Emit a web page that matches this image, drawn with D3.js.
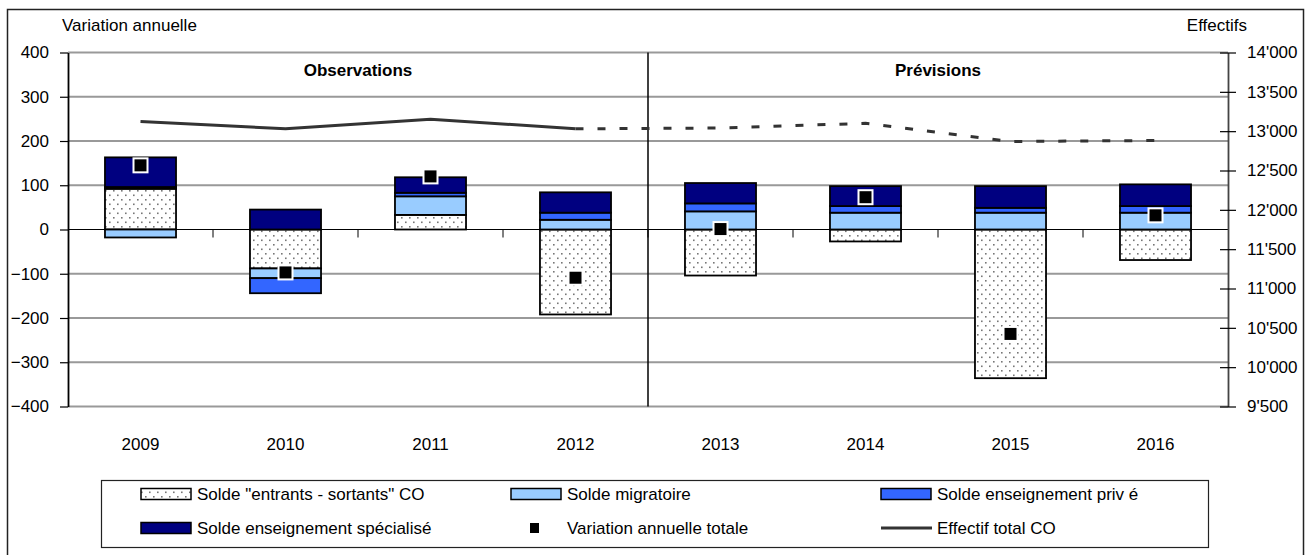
<!DOCTYPE html>
<html>
<head>
<meta charset="utf-8">
<script src="https://cdn.jsdelivr.net/npm/d3@7"></script>
<style>
body { margin: 0; background: #fff; }
text { font-family: "Liberation Sans", Arial, sans-serif; font-size: 17px; fill: #000; }
</style>
</head>
<body>
<svg id="chart" width="1310" height="555"></svg>
<script>
// data
var years = ["2009", "2010", "2011", "2012", "2013", "2014", "2015", "2016"];
var entrants   = [92, -88, 33, -192, -104, -27, -336, -69];
var migratoire = [-18, -22, 42, 22, 41, 38, 38, 38];
var prive      = [4, -34, 8, 16, 18, 15, 11, 15];
var specialise = [67, 45, 35, 46, 46, 45, 49, 49];
var variation  = [145, -97, 120, -109, 1, 73, -236, 32];
var effectif   = [13123, 13030, 13153, 13030, 13040, 13100, 12869, 12881];

var leftTicks  = [-400, -300, -200, -100, 0, 100, 200, 300, 400];
var rightTicks = [9500, 10000, 10500, 11000, 11500, 12000, 12500, 13000, 13500, 14000];
var seriesNames = ['Solde "entrants - sortants" CO', "Solde migratoire", "Solde enseignement priv é",
                   "Solde enseignement spécialisé", "Variation annuelle totale", "Effectif total CO"];

var keys = ["entrants", "migratoire", "prive", "specialise"];
var colors = { entrants: "url(#dots)", migratoire: "#99CCFF", prive: "#3366FF", specialise: "#000080" };

// build table for the stack
var table = years.map(function(y, i) {
  return { year: y, entrants: entrants[i], migratoire: migratoire[i], prive: prive[i], specialise: specialise[i] };
});

var svg = d3.select("#chart");
var plot = { left: 68, right: 1228, top: 52.5, bottom: 406.5 };

// dotted fill
var defs = svg.append("defs");
var pat = defs.append("pattern").attr("id", "dots")
  .attr("patternUnits", "userSpaceOnUse").attr("width", 8).attr("height", 9);
pat.append("rect").attr("width", 8).attr("height", 9).attr("fill", "#fff");
pat.append("rect").attr("x", 1).attr("y", 1).attr("width", 1.6).attr("height", 1.6).attr("fill", "#777");
pat.append("rect").attr("x", 5).attr("y", 5.5).attr("width", 1.6).attr("height", 1.6).attr("fill", "#777");

// outer frame
svg.append("rect").attr("x", 7.5).attr("y", 9.5).attr("width", 1296).attr("height", 560)
  .attr("fill", "none").attr("stroke", "#222").attr("stroke-width", 1.5);

var x = d3.scaleBand().domain(years).range([plot.left, plot.right])
  .paddingInner(0.51).paddingOuter(0.255);
var step = x.step();
var y = d3.scaleLinear().domain([-400, 400]).range([plot.bottom, plot.top]);
var y2 = d3.scaleLinear().domain([9500, 14000]).range([plot.bottom, plot.top]);

// gridlines
svg.append("g").selectAll("line")
  .data(leftTicks.filter(function(d) { return d !== 0; }))
  .enter().append("line")
  .attr("x1", plot.left).attr("x2", plot.right)
  .attr("y1", function(d) { return y(d); }).attr("y2", function(d) { return y(d); })
  .attr("stroke", "#999").attr("stroke-width", 2);

// stacked bars
var stack = d3.stack().keys(keys).offset(d3.stackOffsetDiverging);
var layers = stack(table);

svg.append("g").selectAll("g")
  .data(layers)
  .enter().append("g")
  .attr("fill", function(d) { return colors[d.key]; })
  .selectAll("rect")
  .data(function(d) { return d; })
  .enter().append("rect")
  .attr("x", function(d) { return x(d.data.year); })
  .attr("width", x.bandwidth())
  .attr("y", function(d) { return y(Math.max(d[0], d[1])); })
  .attr("height", function(d) { return Math.abs(y(d[0]) - y(d[1])); })
  .attr("stroke", "#000").attr("stroke-width", 1.8);

// zero line and category ticks
svg.append("line").attr("x1", plot.left).attr("x2", plot.right)
  .attr("y1", y(0)).attr("y2", y(0)).attr("stroke", "#000").attr("stroke-width", 1.2);
svg.append("g").selectAll("line")
  .data(years.slice(1))
  .enter().append("line")
  .attr("x1", function(d) { return x(d) - (step - x.bandwidth()) / 2; })
  .attr("x2", function(d) { return x(d) - (step - x.bandwidth()) / 2; })
  .attr("y1", y(0)).attr("y2", y(0) + 8)
  .attr("stroke", "#000").attr("stroke-width", 1);

// observations / previsions divider
var splitX = x("2013") - (step - x.bandwidth()) / 2;
svg.append("line").attr("x1", splitX).attr("x2", splitX)
  .attr("y1", plot.top).attr("y2", plot.bottom).attr("stroke", "#000").attr("stroke-width", 1.5);

svg.append("text").attr("x", (plot.left + splitX) / 2).attr("y", 76)
  .attr("text-anchor", "middle").style("font-weight", "bold").text("Observations");
svg.append("text").attr("x", (splitX + plot.right) / 2).attr("y", 76)
  .attr("text-anchor", "middle").style("font-weight", "bold").text("Prévisions");

// effectif line, solid for observed, dashed for forecast
var pts = years.map(function(yr, i) { return [x(yr) + x.bandwidth() / 2, y2(effectif[i])]; });
var line = d3.line();
svg.append("path").attr("d", line(pts.slice(0, 4)))
  .attr("fill", "none").attr("stroke", "#333").attr("stroke-width", 3);
svg.append("path").attr("d", line(pts.slice(3)))
  .attr("fill", "none").attr("stroke", "#333").attr("stroke-width", 3)
  .attr("stroke-dasharray", "8,14");

// total variation markers
var ms = 14;
svg.append("g").selectAll("rect")
  .data(variation)
  .enter().append("rect")
  .attr("x", function(d, i) { return x(years[i]) + x.bandwidth() / 2 - ms / 2; })
  .attr("y", function(d) { return y(d) - ms / 2; })
  .attr("width", ms).attr("height", ms)
  .attr("fill", "#000").attr("stroke", "#fff").attr("stroke-width", 2);

// axes
var axL = svg.append("g").attr("transform", "translate(" + plot.left + ",0)")
  .call(d3.axisLeft(y).tickValues(leftTicks).tickSize(8).tickSizeOuter(0).tickPadding(11));
var axR = svg.append("g").attr("transform", "translate(" + plot.right + ",0)")
  .call(d3.axisRight(y2).tickValues(rightTicks).tickSize(8).tickSizeOuter(0).tickPadding(11)
    .tickFormat(function(d) { return d3.format(",")(d).replace(",", "'"); }));
axR.selectAll(".tick line").attr("x1", -8);
[axL, axR].forEach(function(a) {
  a.select(".domain").attr("stroke-width", 1.8);
  a.selectAll(".tick line").attr("stroke-width", 1.2);
  a.selectAll("text").style("font-size", "17px").style("font-family", null);
  a.attr("font-family", null).attr("font-size", null);
});
axR.select(".domain").attr("stroke", "#444");

// category labels
svg.append("g").selectAll("text")
  .data(years)
  .enter().append("text")
  .attr("x", function(d) { return x(d) + x.bandwidth() / 2; })
  .attr("y", 450).attr("text-anchor", "middle")
  .text(function(d) { return d; });

// axis titles
svg.append("text").attr("x", 62).attr("y", 31).text("Variation annuelle");
svg.append("text").attr("x", 1247).attr("y", 31).attr("text-anchor", "end").text("Effectifs");

// legend
var lg = svg.append("g");
lg.append("rect").attr("x", 101.5).attr("y", 480.5).attr("width", 1107).attr("height", 67)
  .attr("fill", "#fff").attr("stroke", "#222").attr("stroke-width", 1.2);
var cols = [141, 511, 881], rows = [494, 528];
function legendItem(i, draw) {
  var cx = cols[i % 3], cy = rows[Math.floor(i / 3)];
  draw(cx, cy);
  lg.append("text").attr("x", cx + 56).attr("y", cy + 6).text(seriesNames[i]);
}
function swatch(fill) {
  return function(cx, cy) {
    lg.append("rect").attr("x", cx).attr("y", cy - 5.5).attr("width", 50).attr("height", 11)
      .attr("fill", fill).attr("stroke", "#000").attr("stroke-width", 1.5);
  };
}
legendItem(0, swatch(colors.entrants));
legendItem(1, swatch(colors.migratoire));
legendItem(2, swatch(colors.prive));
legendItem(3, swatch(colors.specialise));
legendItem(4, function(cx, cy) {
  lg.append("rect").attr("x", cx + 19).attr("y", cy - 5).attr("width", 9).attr("height", 10).attr("fill", "#000");
});
legendItem(5, function(cx, cy) {
  lg.append("line").attr("x1", cx).attr("x2", cx + 51).attr("y1", cy).attr("y2", cy)
    .attr("stroke", "#333").attr("stroke-width", 3);
});
</script>
</body>
</html>
